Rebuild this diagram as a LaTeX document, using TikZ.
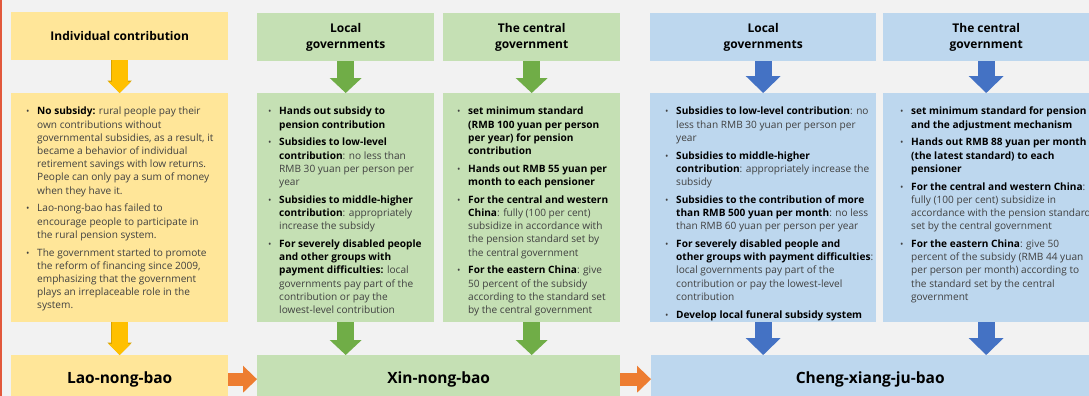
\documentclass[tikz,border=0pt]{standalone}
\usepackage{fontspec}
\setmainfont{Open Sans}
\usetikzlibrary{arrows.meta}

\definecolor{bgc}{HTML}{F2F2F2}
\definecolor{edgec}{HTML}{E2583B}
\definecolor{yboxc}{HTML}{FFE699}
\definecolor{yarrc}{HTML}{FFC000}
\definecolor{yedgec}{HTML}{D9A300}
\definecolor{gboxc}{HTML}{C5E0B4}
\definecolor{garrc}{HTML}{70AD47}
\definecolor{bboxc}{HTML}{BDD7EE}
\definecolor{barrc}{HTML}{4472C4}
\definecolor{oarrc}{HTML}{ED7D31}
\definecolor{txtc}{HTML}{404040}

% bullet item with hanging indent
\newlength\bulind
\setlength\bulind{11pt}
\newcommand\bul[1]{\par\noindent\hangindent=\bulind\hangafter=1\hbox to\bulind{\small\textbullet\hfil}#1\par\vspace{4.6pt}}
\newcommand\kw[1]{{\color{black}\bfseries #1}}
\newcommand\colbody[3]{\parbox[t][229pt][t]{#1}{\vspace*{14pt}\leftskip=#2\rightskip=-14pt plus 1fil\parfillskip=0pt plus 1fil
  \fontsize{10.1}{13.2}\selectfont\color{txtc}#3}}

\tikzset{
  hdr/.style={fill=#1, anchor=north west, inner sep=0pt, minimum height=48, align=center,
    font=\fontsize{12}{16}\selectfont\bfseries},
  body/.style={fill=#1, anchor=north west, inner sep=0pt},
  foot/.style={fill=#1, anchor=north west, inner sep=0pt, minimum height=48,
    font=\fontsize{15.5}{18}\selectfont\bfseries},
  yarr/.style={yarrc, line width=16pt, -{Triangle[length=11pt,width=22pt,line width=0pt]},
    preaction={draw=yedgec, line width=17.5pt, -{Triangle[length=12.5pt,width=24.5pt,line width=0pt]}}},
  garr/.style={garrc, line width=17pt, -{Triangle[length=15pt,width=32pt,line width=0pt]}},
  barr/.style={barrc, line width=17pt, -{Triangle[length=17pt,width=35pt,line width=0pt]}},
  oarr/.style={oarrc, line width=13pt, -{Triangle[length=14pt,width=27pt,line width=0pt]}},
}

\begin{document}
\begin{tikzpicture}[x=1pt,y=-1pt]
\fill[bgc] (0,0) rectangle (1089,396);
\useasboundingbox (0,0) rectangle (1089,396);
\draw[edgec, line width=2pt] (1,0) -- (1,396);

% Lao-nong-bao column
\node[hdr=yboxc, minimum width=217] (indhdr) at (11,12) {Individual contribution};
\node[body=yboxc] (indbody) at (11,93) {\colbody{217pt}{15pt}{%
\bul{\kw{No subsidy:} rural people pay their\\own contributions without\\governmental subsidies, as a result, it\\became a behavior of individual\\retirement savings with low returns.\\People can only pay a sum of money\\when they have it.}
\bul{Lao-nong-bao has failed to\\encourage people to participate in\\the rural pension system.}
\bul{The government started to promote\\the reform of financing since 2009,\\emphasizing that the government\\plays an irreplaceable role in the\\system.}}};
\node[foot=yboxc, minimum width=217] (laonb) at (11,355) {Lao-nong-bao};
\draw[yarr] (indhdr) -- (indbody);
\draw[yarr] (indbody) -- (laonb);

% Xin-nong-bao columns
\node[hdr=gboxc, minimum width=177] (xlochdr) at (257,13) {Local\\governments};
\node[hdr=gboxc, minimum width=177] (xcenhdr) at (443,13) {The central\\government};
\node[body=gboxc] (xlocbody) at (257,93) {\colbody{177pt}{11pt}{%
\bul{\kw{Hands out subsidy to\\pension contribution}}
\bul{\kw{Subsidies to low-level\\contribution}: no less than\\RMB 30 yuan per person per\\year}
\bul{\kw{Subsidies to middle-higher\\contribution}: appropriately\\increase the subsidy}
\bul{\kw{For severely disabled people\\and other groups with\\payment difficulties:} local\\governments pay part of the\\contribution or pay the\\lowest-level contribution}}};
\node[body=gboxc] (xcenbody) at (443,93) {\colbody{177pt}{14pt}{%
\bul{\kw{set minimum standard\\(RMB 100 yuan per person\\per year) for pension\\contribution}}
\bul{\kw{Hands out RMB 55 yuan per\\month to each pensioner}}
\bul{\kw{For the central and western\\China}: fully (100 per cent)\\subsidize in accordance with\\the pension standard set by\\the central government}
\bul{\kw{For the eastern China}: give\\50 percent of the subsidy\\according to the standard set\\by the central government}}};
\node[foot=gboxc, minimum width=363] (xinnb) at (257,355) {Xin-nong-bao};
\draw[garr] (xlochdr) -- (xlocbody);
\draw[garr] (xcenhdr) -- (xcenbody);
\draw[garr] (xlocbody.south) -- (xlocbody.south |- xinnb.north);
\draw[garr] (xcenbody.south) -- (xcenbody.south |- xinnb.north);

% Cheng-xiang-ju-bao columns
\node[hdr=bboxc, minimum width=226] (clochdr) at (650,13) {Local\\governments};
\node[hdr=bboxc, minimum width=206] (ccenhdr) at (883,13) {The central\\government};
\node[body=bboxc] (clocbody) at (650,93) {\colbody{226pt}{15pt}{%
\bul{\kw{Subsidies to low-level contribution}: no\\less than RMB 30 yuan per person per\\year}
\bul{\kw{Subsidies to middle-higher\\contribution}: appropriately increase the\\subsidy}
\bul{\kw{Subsidies to the contribution of more\\than RMB 500 yuan per month}: no less\\than RMB 60 yuan per person per year}
\bul{\kw{For severely disabled people and\\other groups with payment difficulties}:\\local governments pay part of the\\contribution or pay the lowest-level\\contribution}
\bul{\kw{Develop local funeral subsidy system}}}};
\node[body=bboxc] (ccenbody) at (883,93) {\colbody{206pt}{17pt}{%
\bul{\kw{set minimum standard for pension\\and the adjustment mechanism}}
\bul{\kw{Hands out RMB 88 yuan per month\\(the latest standard) to each\\pensioner}}
\bul{\kw{For the central and western China}:\\fully (100 per cent) subsidize in\\accordance with the pension standard\\set by the central government}
\bul{\kw{For the eastern China}: give 50\\percent of the subsidy (RMB 44 yuan\\per person per month) according to\\the standard set by the central\\government}}};
\node[foot=bboxc, minimum width=438] (chengnb) at (651,355) {Cheng-xiang-ju-bao};
\draw[barr] (clochdr) -- (clocbody);
\draw[barr] (ccenhdr) -- (ccenbody);
\draw[barr] (clocbody.south) -- (clocbody.south |- chengnb.north);
\draw[barr] (ccenbody.south) -- (ccenbody.south |- chengnb.north);

% links between schemes
\draw[oarr] (laonb) -- (xinnb);
\draw[oarr] (xinnb) -- (chengnb);
\end{tikzpicture}
\end{document}
